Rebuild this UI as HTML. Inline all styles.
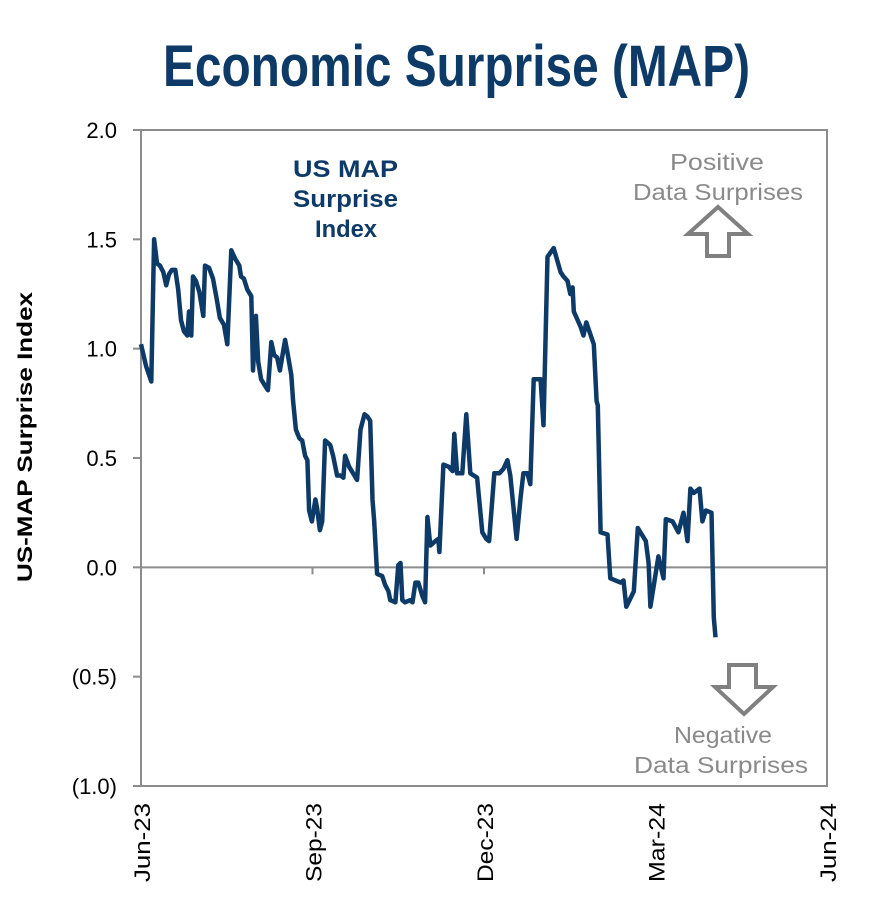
<!DOCTYPE html>
<html><head><meta charset="utf-8">
<style>
html,body{margin:0;padding:0;background:#fff;width:886px;height:900px;overflow:hidden}
svg text{font-family:"Liberation Sans",Arial,sans-serif}
</style></head>
<body>
<svg id="chart" width="886" height="900" viewBox="0 0 886 900" xmlns="http://www.w3.org/2000/svg">
<text x="163" y="86" textLength="587" lengthAdjust="spacingAndGlyphs" font-size="58" font-weight="bold" fill="#0d3a66">Economic Surprise (MAP)</text>
<text transform="translate(32,582) rotate(-90)" textLength="290" lengthAdjust="spacingAndGlyphs" font-size="21" font-weight="bold" fill="#000">US-MAP Surprise Index</text>
<rect x="141" y="130" width="686" height="656" fill="none" stroke="#8c8c8c" stroke-width="2"/>
<g id="yaxis"></g>
<g id="xaxis"></g>
<line id="zero" stroke="#8c8c8c" stroke-width="2"/>
<path id="series" fill="none" stroke="#0d3a66" stroke-width="4.5" stroke-linejoin="round"/>
<g font-size="24" font-weight="bold" fill="#0d3a66">
<text x="293" y="177" textLength="105" lengthAdjust="spacingAndGlyphs">US MAP</text><text x="293" y="207" textLength="105" lengthAdjust="spacingAndGlyphs">Surprise</text><text x="315" y="237" textLength="62" lengthAdjust="spacingAndGlyphs">Index</text></g>
<g font-size="23" fill="#8a8a8a">
<text x="670" y="170" textLength="94" lengthAdjust="spacingAndGlyphs">Positive</text><text x="633" y="200" textLength="170" lengthAdjust="spacingAndGlyphs">Data Surprises</text></g>
<path d="M718,207 L748,234 L729,234 L729,256 L707,256 L707,234 L688,234 Z" fill="none" stroke="#808080" stroke-width="4" stroke-linejoin="miter"/>
<path d="M729,665 L756,665 L756,687 L773,687 L744,714 L715,687 L729,687 Z" fill="none" stroke="#808080" stroke-width="4"/>
<g font-size="23" fill="#8a8a8a">
<text x="674" y="743" textLength="98" lengthAdjust="spacingAndGlyphs">Negative</text><text x="634" y="773" textLength="174" lengthAdjust="spacingAndGlyphs">Data Surprises</text></g>
</svg>
<script>
const monthOffsets=[0,.09,.18,.23,.28,.33,.39,.44,.49,.54,.60,.65,.70,.75,.81,.84,.88,.91,.96,1.02,1.09,1.12,1.19,1.26,1.33,1.38,1.45,1.51,1.58,1.65,1.72,1.75,1.80,1.86,1.93,1.96,2.01,2.05,2.10,2.17,2.22,2.28,2.33,2.38,2.43,2.52,2.57,2.63,2.66,2.71,2.77,2.82,2.87,2.91,2.94,2.99,3.05,3.08,3.13,3.17,3.22,3.31,3.36,3.43,3.49,3.54,3.57,3.64,3.71,3.78,3.84,3.91,3.96,4.01,4.05,4.08,4.13,4.22,4.27,4.33,4.36,4.45,4.50,4.54,4.57,4.62,4.71,4.75,4.80,4.85,4.92,4.97,5.01,5.06,5.15,5.20,5.22,5.29,5.38,5.45,5.48,5.53,5.62,5.69,5.76,5.88,5.97,6.04,6.09,6.18,6.27,6.34,6.41,6.46,6.57,6.64,6.69,6.76,6.81,6.87,6.99,7.04,7.11,7.22,7.34,7.39,7.46,7.51,7.55,7.57,7.69,7.74,7.79,7.92,7.97,7.99,8.04,8.16,8.21,8.39,8.44,8.49,8.62,8.69,8.83,8.88,8.91,9.05,9.14,9.18,9.30,9.40,9.49,9.56,9.61,9.67,9.77,9.82,9.88,9.98,10.02,10.05];
const surpriseValues=[1.02,.92,.85,1.50,1.39,1.38,1.35,1.29,1.34,1.36,1.36,1.27,1.13,1.08,1.06,1.17,1.06,1.33,1.31,1.26,1.15,1.38,1.37,1.32,1.22,1.14,1.11,1.02,1.45,1.41,1.38,1.33,1.32,1.27,1.24,.90,1.15,.94,.86,.83,.81,1.03,.97,.96,.90,1.04,.97,.88,.76,.63,.59,.58,.51,.49,.26,.21,.31,.27,.17,.21,.58,.56,.51,.42,.42,.41,.51,.46,.43,.40,.63,.70,.69,.67,.31,.21,-.03,-.04,-.08,-.11,-.15,-.16,.01,.02,-.15,-.16,-.15,-.16,-.07,-.07,-.13,-.16,.23,.10,.12,.13,.07,.47,.46,.44,.61,.43,.43,.70,.43,.41,.16,.13,.12,.43,.43,.45,.49,.42,.13,.32,.43,.43,.38,.86,.86,.65,1.42,1.46,1.35,1.33,1.31,1.25,1.28,1.17,1.10,1.06,1.12,1.02,.76,.74,.16,.15,-.05,-.07,-.06,-.18,-.11,.18,.12,.02,-.18,.05,-.05,.22,.21,.16,.25,.12,.36,.34,.36,.21,.26,.25,-.23,-.32];
const yTicks=[2.0,1.5,1.0,0.5,0,-0.5,-1.0];
const yTickLabels=["2.0","1.5","1.0","0.5","0.0","(0.5)","(1.0)"];
const xTickMonths=[0,3,6,9,12];
const xTickLabels=["Jun-23","Sep-23","Dec-23","Mar-24","Jun-24"];
const NS="http://www.w3.org/2000/svg";
const X0=141,X1=827,Y0=786,Y1=130,XMAX=12,YMIN=-1,YMAX=2;
const xs=m=>X0+(m/XMAX)*(X1-X0);
const ys=v=>Y0-(v-YMIN)/(YMAX-YMIN)*(Y0-Y1);
const yg=document.getElementById('yaxis'),xg=document.getElementById('xaxis');
yTicks.forEach((t,i)=>{
 const l=document.createElementNS(NS,'line');
 
 
 l.setAttribute('x1',X0-8);l.setAttribute('x2',X0);l.setAttribute('y1',ys(t));l.setAttribute('y2',ys(t));
 l.setAttribute('stroke','#8c8c8c');l.setAttribute('stroke-width','2');yg.appendChild(l);
 const tx=document.createElementNS(NS,'text');
 
 
 tx.setAttribute('x',X0-24);tx.setAttribute('y',ys(t)+8);tx.setAttribute('text-anchor','end');
 tx.setAttribute('font-size','22');tx.textContent=yTickLabels[i];yg.appendChild(tx);
});
const z=document.getElementById('zero');
z.setAttribute('x1',X0);z.setAttribute('x2',X1);z.setAttribute('y1',ys(0));z.setAttribute('y2',ys(0));
xTickMonths.forEach((m,i)=>{
 const l=document.createElementNS(NS,'line');
 
 
 l.setAttribute('x1',xs(m));l.setAttribute('x2',xs(m));l.setAttribute('y1',ys(0));l.setAttribute('y2',ys(0)+7);
 l.setAttribute('stroke','#8c8c8c');l.setAttribute('stroke-width','2');xg.appendChild(l);
 const tx=document.createElementNS(NS,'text');
 
 
 tx.setAttribute('transform',`translate(${xs(m)+9},${Y0+96}) rotate(-90)`);
 tx.setAttribute('textLength','79');tx.setAttribute('lengthAdjust','spacingAndGlyphs');
 tx.setAttribute('font-size','22');
 tx.textContent=xTickLabels[i];xg.appendChild(tx);
});
document.getElementById('series').setAttribute('d',monthOffsets.map((m,i)=>(i?'L':'M')+xs(m).toFixed(1)+','+ys(surpriseValues[i]).toFixed(1)).join(' '));
</script>
</body></html>
